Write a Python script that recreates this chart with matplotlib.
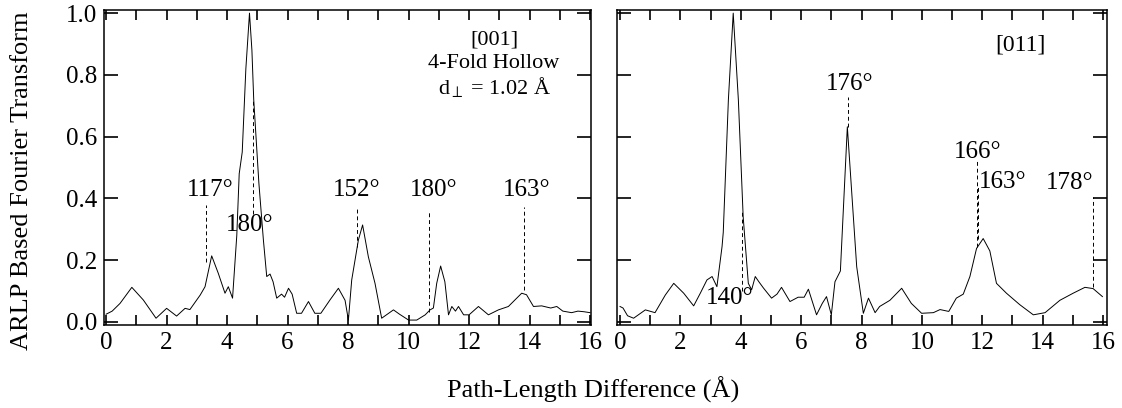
import matplotlib
matplotlib.use("Agg")
import matplotlib.pyplot as plt
from matplotlib.ticker import MultipleLocator

plt.rcParams['font.family'] = ['Liberation Serif', 'DejaVu Serif']
plt.rcParams['mathtext.fontset'] = 'custom'
plt.rcParams['mathtext.rm'] = 'Liberation Serif'
plt.rcParams['mathtext.it'] = 'Liberation Serif:italic'

# left panel: [001] 4-fold hollow
left_x = [0.0, 0.2, 0.46, 0.85, 1.23, 1.65, 2.0, 2.33, 2.61, 2.77, 3.11, 3.27, 3.49, 3.71,
          3.93, 4.04, 4.18, 4.32, 4.4, 4.5, 4.62, 4.74, 4.82, 4.88, 5.05, 5.2, 5.31, 5.42,
          5.52, 5.64, 5.8, 5.9, 6.03, 6.15, 6.3, 6.46, 6.69, 6.9, 7.1, 7.4, 7.68, 7.9, 8.01,
          8.12, 8.34, 8.48, 8.67, 8.89, 9.11, 9.5, 9.7, 10.0, 10.27, 10.55, 10.71, 10.82,
          10.93, 11.06, 11.2, 11.32, 11.43, 11.55, 11.65, 11.82, 12.0, 12.31, 12.64, 12.97,
          13.3, 13.74, 13.9, 14.13, 14.4, 14.7, 14.9, 15.1, 15.39, 15.6, 15.8, 16.0]
left_y = [0.025, 0.035, 0.06, 0.112, 0.071, 0.012, 0.044, 0.019, 0.044, 0.04, 0.087, 0.114,
          0.214, 0.157, 0.093, 0.114, 0.077, 0.28, 0.48, 0.55, 0.82, 1.0, 0.88, 0.72, 0.45,
          0.265, 0.147, 0.155, 0.13, 0.077, 0.09, 0.08, 0.109, 0.09, 0.028, 0.028, 0.066,
          0.028, 0.028, 0.071, 0.109, 0.07, 0.006, 0.136, 0.265, 0.314, 0.211, 0.125, 0.012,
          0.039, 0.025, 0.006, 0.006, 0.023, 0.039, 0.045, 0.125, 0.181, 0.13, 0.023, 0.05,
          0.035, 0.05, 0.023, 0.023, 0.05, 0.023, 0.039, 0.05, 0.093, 0.088, 0.05, 0.052,
          0.045, 0.05, 0.035, 0.03, 0.035, 0.033, 0.03]

# right panel: [011]
right_x = [0.0, 0.1, 0.25, 0.45, 0.84, 1.16, 1.5, 1.78, 2.11, 2.44, 2.66, 2.88, 3.05, 3.21,
           3.38, 3.42, 3.59, 3.75, 3.92, 4.08, 4.25, 4.36, 4.48, 4.6, 4.75, 5.02, 5.2, 5.35,
           5.63, 5.9, 6.1, 6.24, 6.51, 6.7, 6.84, 7.0, 7.12, 7.3, 7.53, 7.84, 8.06, 8.23,
           8.45, 8.6, 8.94, 9.33, 9.65, 9.99, 10.38, 10.6, 10.89, 11.14, 11.37, 11.59, 11.81,
           12.03, 12.25, 12.47, 12.8, 13.24, 13.69, 14.08, 14.57, 15.01, 15.4, 15.67, 15.98]
right_y = [0.05, 0.045, 0.02, 0.012, 0.039, 0.03, 0.087, 0.125, 0.093, 0.052, 0.093, 0.136,
           0.147, 0.114, 0.244, 0.29, 0.72, 1.0, 0.72, 0.34, 0.125, 0.104, 0.147, 0.13, 0.11,
           0.077, 0.09, 0.112, 0.066, 0.08, 0.08, 0.106, 0.023, 0.06, 0.082, 0.023, 0.13,
           0.165, 0.632, 0.179, 0.028, 0.077, 0.03, 0.05, 0.07, 0.109, 0.06, 0.028, 0.03,
           0.04, 0.034, 0.077, 0.09, 0.147, 0.238, 0.27, 0.23, 0.125, 0.093, 0.056, 0.023,
           0.03, 0.07, 0.093, 0.112, 0.108, 0.082]

# scattering angle markers
left_labels = ['117°', '180°', '152°', '180°', '163°']
left_line_x = [3.3, 4.87, 8.29, 10.66, 13.82]
left_line_y0 = [0.195, 0.35, 0.244, 0.033, 0.104]
left_line_y1 = [0.38, 0.72, 0.373, 0.363, 0.373]
left_label_x = [3.44, 4.76, 8.3, 10.82, 13.9]
left_label_y = [0.427, 0.314, 0.427, 0.427, 0.427]

right_labels = ['140°', '176°', '166°', '163°', '178°']
right_line_x = [4.03, 7.56, 11.81, 11.87, 15.67]
right_line_y0 = [0.1, 0.632, 0.244, 0.27, 0.114]
right_line_y1 = [0.36, 0.73, 0.52, 0.44, 0.405]
right_label_x = [3.63, 7.61, 11.86, 12.69, 14.9]
right_label_y = [0.077, 0.77, 0.55, 0.454, 0.45]

fig = plt.figure(figsize=(11.22, 4.08), dpi=100)
ax1 = fig.add_axes([0.0927, 0.2034, 0.434, 0.772])
ax2 = fig.add_axes([0.5499, 0.2034, 0.4367, 0.772])


def style(ax, xlim, show_ylabels):
    ax.set_xlim(*xlim)
    ax.set_ylim(-0.01, 1.01)
    ax.xaxis.set_major_locator(MultipleLocator(2))
    ax.xaxis.set_minor_locator(MultipleLocator(1))
    ax.tick_params(axis='both', which='both', direction='in', top=True, right=True,
                   width=1.2, labelsize=18)
    ax.tick_params(axis='x', which='both', length=7, pad=5)
    ax.tick_params(axis='y', which='major', length=10, pad=5)
    ax.set_yticks([0, 0.2, 0.4, 0.6, 0.8, 1.0])
    ax.set_yticklabels(['0.0', '0.2', '0.4', '0.6', '0.8', '1.0'])
    if not show_ylabels:
        ax.tick_params(axis='y', labelleft=False)
    for s in ax.spines.values():
        s.set_linewidth(1.1)


style(ax1, (-0.07, 16.03), True)
style(ax2, (-0.1, 16.13), False)

ax1.plot(left_x, left_y, color='black', lw=0.7)
ax2.plot(right_x, right_y, color='black', lw=0.7)

ax1.vlines(left_line_x, left_line_y0, left_line_y1, colors='black', lw=0.7,
           linestyles=(0, (4, 3)))
ax2.vlines(right_line_x, right_line_y0, right_line_y1, colors='black', lw=0.7,
           linestyles=(0, (4, 3)))

for t, x, y in zip(left_labels, left_label_x, left_label_y):
    ax1.text(x, y, t, ha='center', va='center', fontsize=18)
for t, x, y in zip(right_labels, right_label_x, right_label_y):
    ax2.text(x, y, t, ha='center', va='center', fontsize=18)

ax1.text(12.83, 0.912, '[001]', ha='center', va='center', fontsize=16)
ax1.text(12.83, 0.836, '4-Fold Hollow', ha='center', va='center', fontsize=16)
ax1.text(12.83, 0.762, 'd$_{\\perp}$ = 1.02 Å', ha='center', va='center', fontsize=16)
ax2.text(13.26, 0.896, '[011]', ha='center', va='center', fontsize=17)

fig.text(0.02, 0.556, 'ARLP Based Fourier Transform', rotation=90, ha='center',
         va='center', fontsize=19)
fig.text(0.5285, 0.0245, 'Path-Length Difference (Å)', ha='center', va='baseline',
         fontsize=19)

fig.savefig('out.png', dpi=100)
